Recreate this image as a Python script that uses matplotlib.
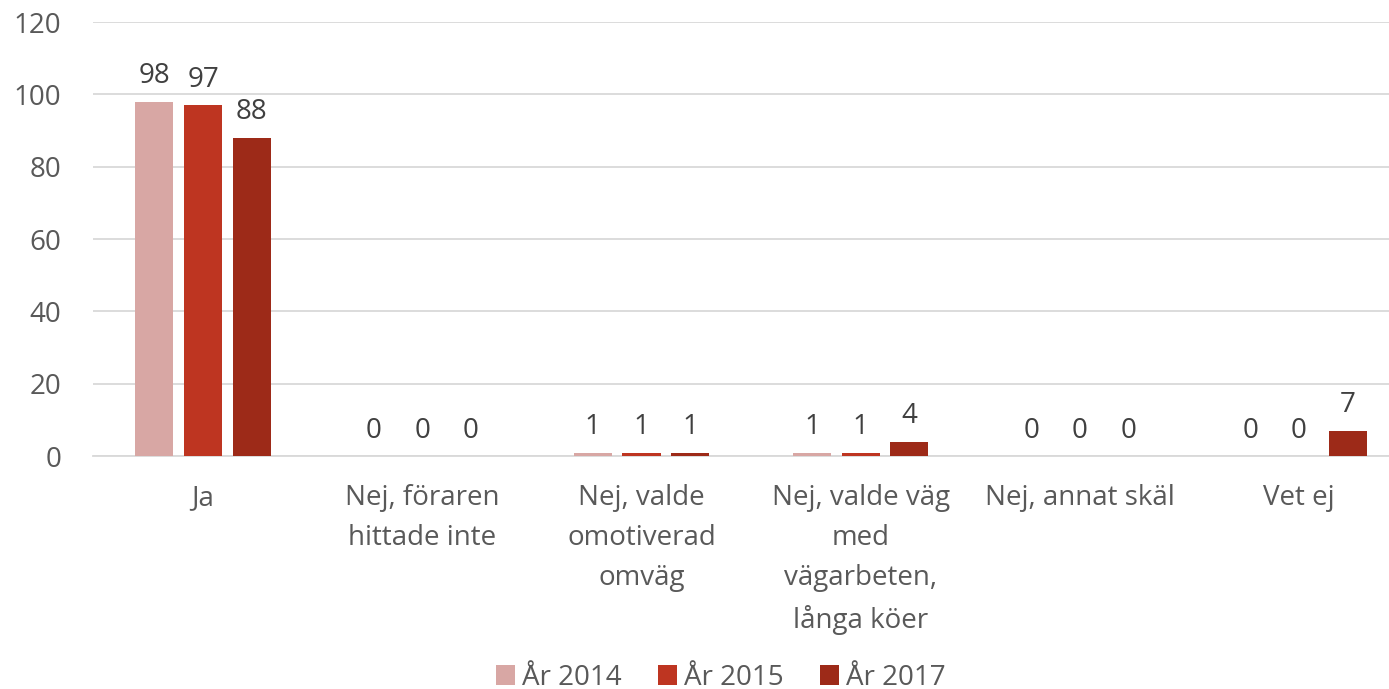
import matplotlib
matplotlib.use("Agg")
import matplotlib.pyplot as plt
import numpy as np

plt.rcParams['font.family'] = ['Open Sans', 'DejaVu Sans']

categories = ["Ja", "Nej, föraren\nhittade inte", "Nej, valde\nomotiverad\nomväg",
              "Nej, valde väg\nmed\nvägarbeten,\nlånga köer", "Nej, annat skäl", "Vet ej"]
series_names = ["År 2014", "År 2015", "År 2017"]
v2014 = [98, 0, 1, 1, 0, 0]
v2015 = [97, 0, 1, 1, 0, 0]
v2017 = [88, 0, 1, 4, 0, 7]
colors = ["#D8A7A4", "#BE3521", "#9D2A18"]
yticks = [0, 20, 40, 60, 80, 100, 120]

fig = plt.figure(figsize=(13.89, 6.89), dpi=100)
ax = fig.add_axes([0.0673, 0.338, 0.9468, 0.63])

x = np.arange(len(categories))
bw = 0.174
step = 0.222
for i, (vals, name, c) in enumerate(zip([v2014, v2015, v2017], series_names, colors)):
    pos = x + (i - 1) * step
    ax.bar(pos, vals, width=bw, color=c, label=name, zorder=3)
    for p, v in zip(pos, vals):
        ax.text(p, v + 3.2, str(v), ha='center', va='bottom', fontsize=20, color='#404040')

ax.set_xlim(-0.5, len(categories) - 0.5)
ax.set_ylim(0, 120)
ax.set_yticks(yticks)
ax.set_yticklabels([str(t) for t in yticks], fontsize=20, color='#595959')
ax.set_xticks(x)
ax.set_xticklabels(categories, fontsize=20, color='#595959', linespacing=1.57)
ax.tick_params(axis='y', length=0, pad=23)
ax.tick_params(axis='x', length=0, pad=20)
ax.grid(axis='y', color='#D9D9D9', linewidth=1.3, zorder=0)
for s in ['top', 'right', 'left']:
    ax.spines[s].set_visible(False)
ax.spines['bottom'].set_color('#D9D9D9')
ax.spines['bottom'].set_linewidth(1.3)

leg = fig.legend(loc='lower center', bbox_to_anchor=(0.519, -0.04), ncol=3, frameon=False,
                 fontsize=20, handlelength=0.7, handleheight=0.7, handletextpad=0.25,
                 columnspacing=1.3)
for t in leg.get_texts():
    t.set_color('#595959')

fig.savefig("out.png", dpi=100)
